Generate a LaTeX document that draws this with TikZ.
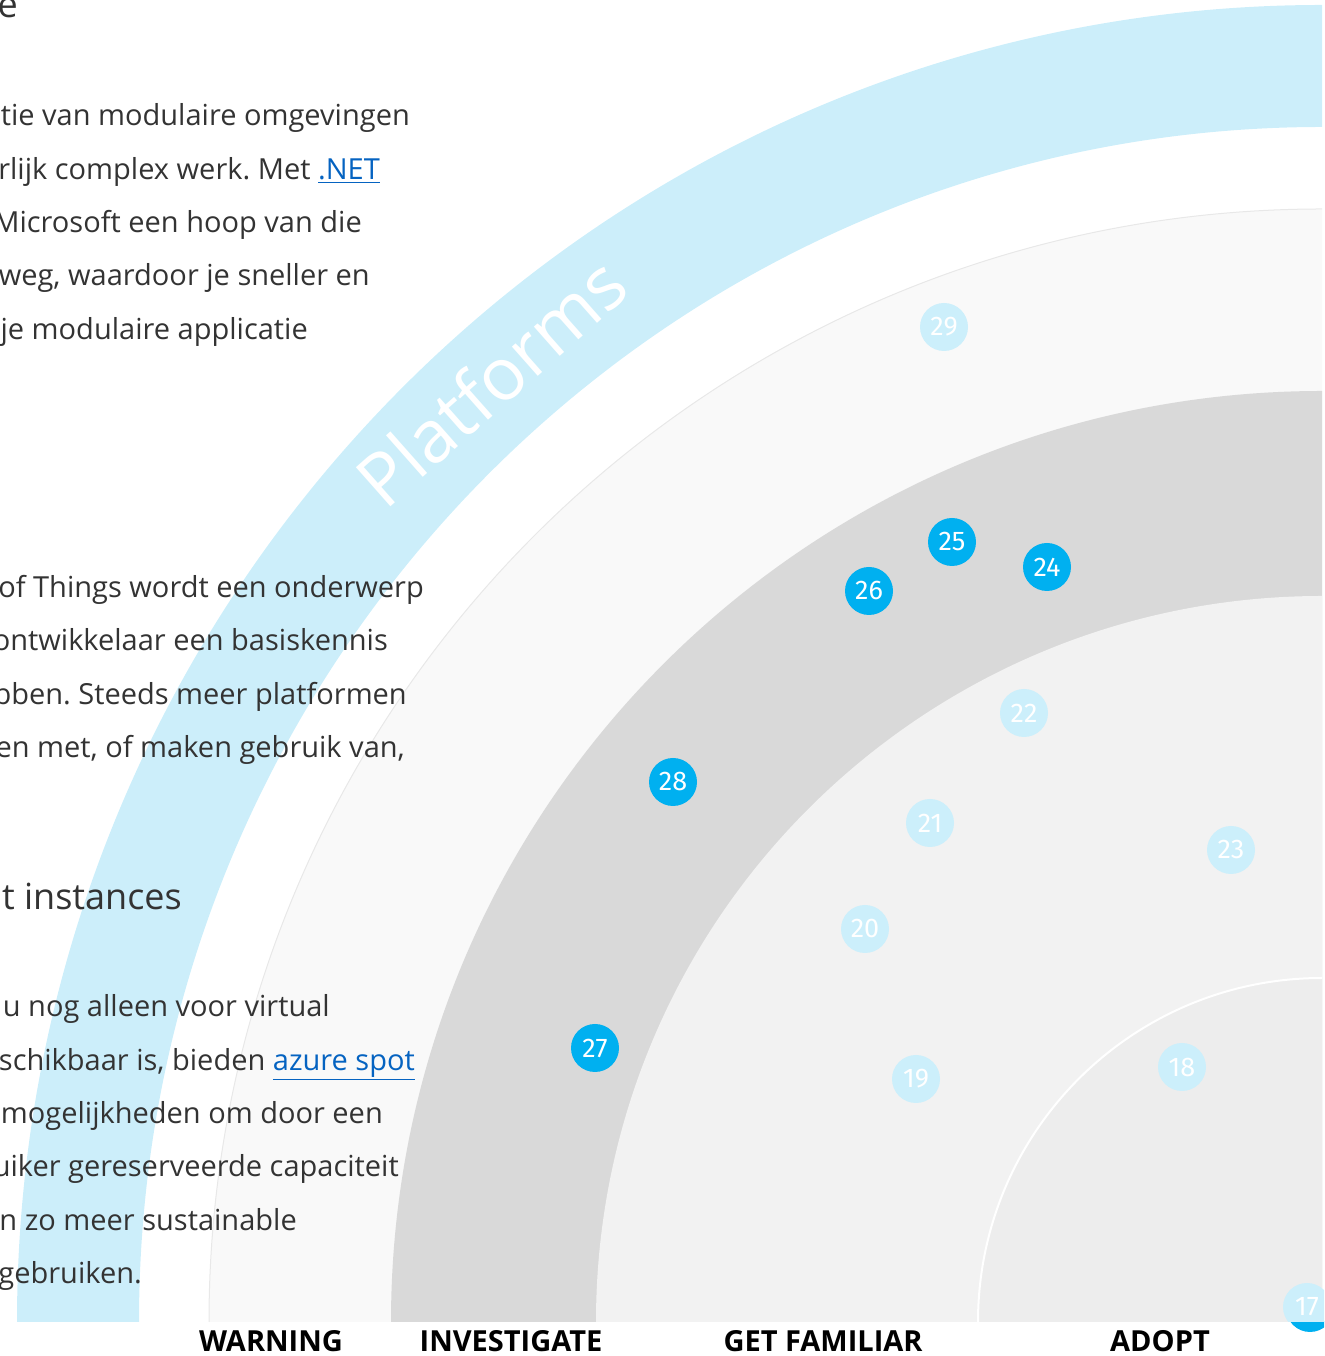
\documentclass[tikz,border=0pt]{standalone}
\usepackage{fontspec}
\setmainfont{Open Sans}
\newfontfamily\blipfont{Fira Sans}
\definecolor{bandblue}{HTML}{CCEEFA}
\definecolor{ringwarn}{HTML}{F9F9F9}
\definecolor{ringinv}{HTML}{D9D9D9}
\definecolor{ringfam}{HTML}{F2F2F2}
\definecolor{ringadopt}{HTML}{EDEDED}
\definecolor{blipnew}{HTML}{00B0F0}
\definecolor{blipold}{HTML}{CCEFFB}
\definecolor{bodytext}{HTML}{333333}
\definecolor{linkblue}{HTML}{0563C1}
\frenchspacing
\begin{document}
\begin{tikzpicture}[x=1pt, y=1pt,
  blip/.style={circle, minimum size=48pt, inner sep=0pt, fill=blipnew, text=white, font=\blipfont\fontsize{27}{27}\selectfont},
  blipfaded/.style={blip, fill=blipold},
  body/.style={anchor=base east, inner sep=0pt, text=bodytext, font=\fontsize{29}{29}\selectfont},
  heading/.style={body, font=\fontsize{36}{36}\selectfont},
  ringlabel/.style={anchor=base, inner sep=0pt, font=\bfseries\fontsize{29}{29}\selectfont}]
\useasboundingbox (0,0) rectangle (1324,1356);
\coordinate (ctr) at (1322,34);
\begin{scope}
\clip (1280,0) rectangle (1324,34);
\node[blip] (tid16) at (1310,48){};
\end{scope}
\fill[bandblue] (ctr) ++(-1305,0) arc[start angle=180, end angle=90, x radius=1305, y radius=1317]
  -- ++(0,-122) arc[start angle=90, end angle=180, x radius=1183, y radius=1195] -- cycle;
\fill[ringwarn] (ctr) -- ++(-1113,0) arc[start angle=180, end angle=90, radius=1113] -- cycle;
\draw[black!9, line width=1pt] (ctr) ++(-1113,0) arc[start angle=180, end angle=90, radius=1113];
\fill[ringinv] (ctr) -- ++(-931,0) arc[start angle=180, end angle=90, radius=931] -- cycle;
\fill[ringfam] (ctr) -- ++(-726,0) arc[start angle=180, end angle=90, radius=726] -- cycle;
\fill[ringadopt] (ctr) -- ++(-344,0) arc[start angle=180, end angle=90, radius=344] -- cycle;
\draw[white, line width=2pt] (ctr) ++(-344,0) arc[start angle=180, end angle=90, radius=344];
\node[text=white, rotate=41.5, font=\fontsize{73}{73}\selectfont] (band) at (491,975){Platforms};
\node[blipfaded] (tid29) at (944,1029){29};
\node[blip] (tid25) at (952,814){25};
\node[blip] (tid24) at (1047,789){24};
\node[blip] (tid26) at (869,765){26};
\node[blip] (tid28) at (673,574){28};
\node[blipfaded] (tid22) at (1024,643){22};
\node[blipfaded] (tid21) at (930,533){21};
\node[blipfaded] (tid23) at (1231,506){23};
\node[blipfaded] (tid20) at (865,427){20};
\node[blip] (tid27) at (595,308){27};
\node[blipfaded] (tid19) at (916,277){19};
\node[blipfaded] (tid18) at (1182,289){18};
\begin{scope}
\clip (1280,34) rectangle (1324,100);
\node[blipfaded] (tid17) at (1307,49){17};
\end{scope}
\node[heading] (h1) at (18,1338){e};
\node[body] (l1) at (410,1230){tie van modulaire omgevingen};
\node[body] (l2) at (380,1176){rlijk complex werk. Met {\color{linkblue}\underline{.NET}}};
\node[body] (l3) at (362,1123){Microsoft een hoop van die};
\node[body] (l4) at (370,1070){weg, waardoor je sneller en};
\node[body] (l5) at (308,1016){je modulaire applicatie};
\node[body] (l6) at (424,758){of Things wordt een onderwerp};
\node[body] (l7) at (388,705){ontwikkelaar een basiskennis};
\node[body] (l8) at (407,651){bben. Steeds meer platformen};
\node[body] (l9) at (405,598){en met, of maken gebruik van,};
\node[heading] (h2) at (182,446){t instances};
\node[body] (l10) at (330,339){u nog alleen voor virtual};
\node[body] (l11) at (415,285){schikbaar is, bieden {\color{linkblue}\underline{azure spot}}};
\node[body] (l12) at (383,232){mogelijkheden om door een};
\node[body] (l13) at (399,179){uiker gereserveerde capaciteit};
\node[body] (l14) at (297,125){n zo meer sustainable};
\node[body] (l15) at (142,72){gebruiken.};
\node[ringlabel] (warn) at (271,5){WARNING};
\node[ringlabel] (inv) at (511,5){INVESTIGATE};
\node[ringlabel] (fam) at (823,5){GET FAMILIAR};
\node[ringlabel] (adopt) at (1160,5){ADOPT};
\end{tikzpicture}
\end{document}
